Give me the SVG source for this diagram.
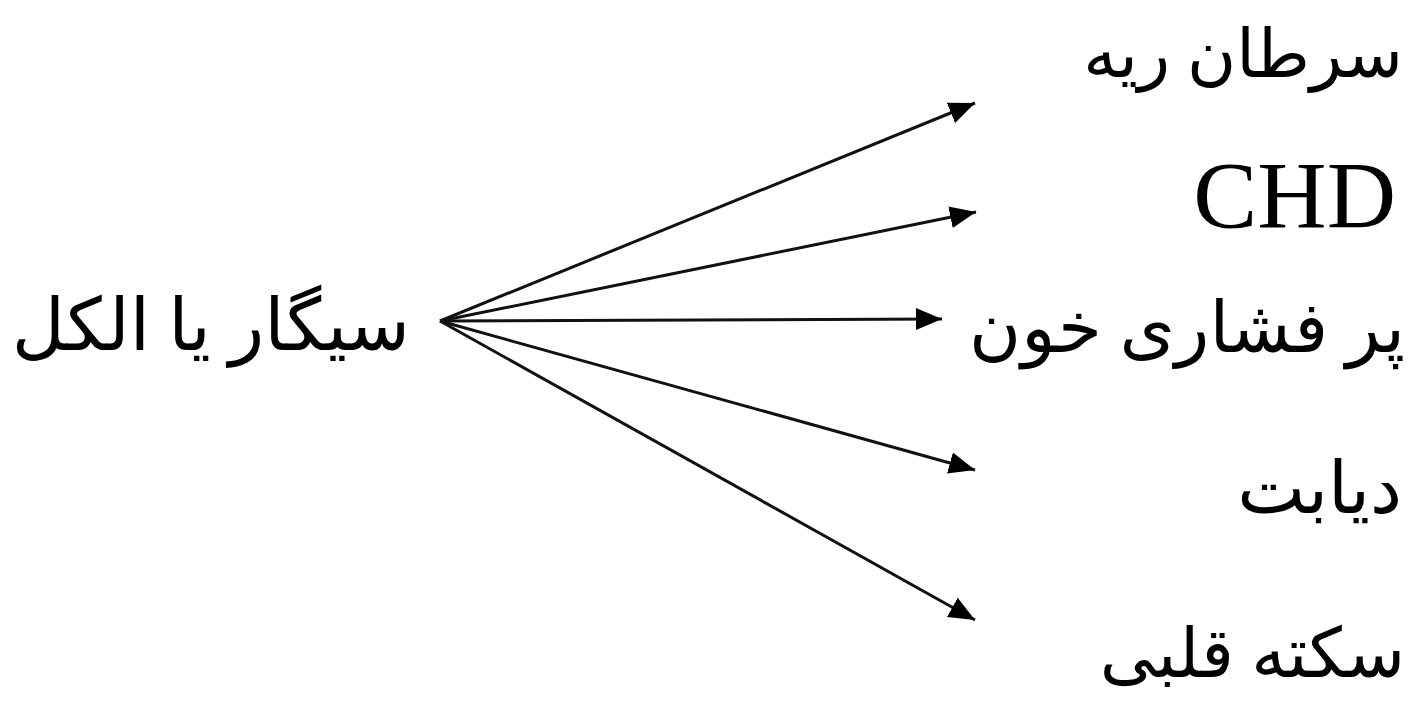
<svg xmlns="http://www.w3.org/2000/svg" width="1414" height="708" viewBox="0 0 1414 708">
<style>
.t{font-family:"Liberation Serif","DejaVu Serif","DejaVu Sans",serif;fill:#000;text-anchor:end}
.c{stroke:#111;stroke-width:3;fill:none;marker-end:url(#ah)}
</style>
<defs>
<marker id="ah" markerUnits="userSpaceOnUse" markerWidth="30" markerHeight="24" refX="26" refY="11" orient="auto">
<path d="M0,0 L26,11 L0,22 Z" fill="#000"/>
</marker>
</defs>
<rect width="1414" height="708" fill="#fff"/>
<g id="connectors">
<line class="c" x1="440" y1="321" x2="975" y2="103"/>
<line class="c" x1="440" y1="321" x2="976" y2="212"/>
<line class="c" x1="440" y1="321" x2="942" y2="319"/>
<line class="c" x1="440" y1="321" x2="975" y2="470"/>
<line class="c" x1="440" y1="321" x2="975" y2="620"/>
</g>
<g id="node-source"><text class="t" style="font-size:73px" x="410" y="350">سیگار یا الکل</text></g>
<g id="node-lung"><text class="t" style="font-size:67px" x="1403" y="77">سرطان ریه</text></g>
<g id="node-chd"><text class="t" style="font-size:96px" x="1396" y="228">CHD</text></g>
<g id="node-bp"><text class="t" style="font-size:71px" x="1405" y="352">پر فشاری خون</text></g>
<g id="node-diabetes"><text class="t" style="font-size:72px" x="1402" y="513">دیابت</text></g>
<g id="node-stroke"><text class="t" style="font-size:69px" x="1405" y="677">سکته قلبی</text></g>
</svg>
